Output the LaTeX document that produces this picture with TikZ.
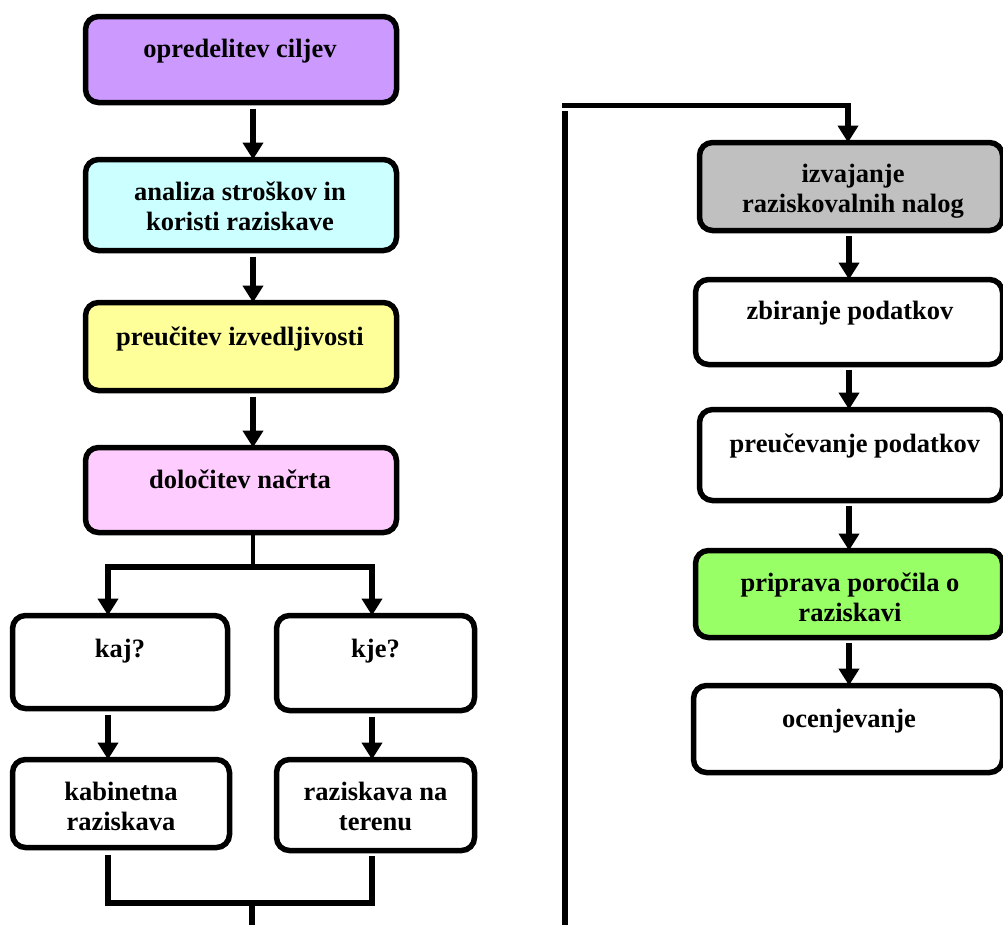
\documentclass[tikz,border=0pt]{standalone}
\usepackage{fontspec}
\setmainfont{Liberation Serif}
\usetikzlibrary{arrows.meta}

\definecolor{cPurple}{HTML}{CC99FF}
\definecolor{cCyan}{HTML}{CCFFFF}
\definecolor{cYellow}{HTML}{FFFF99}
\definecolor{cPink}{HTML}{FFCCFF}
\definecolor{cGray}{HTML}{C0C0C0}
\definecolor{cGreen}{HTML}{99FF66}

\tikzset{
  box/.style={draw=black, line width=5.5pt, rounded corners=13pt, inner sep=0pt, outer sep=0pt},
  lbl/.style={anchor=base, align=center, inner sep=0pt,
    font=\fontsize{26.5}{30}\selectfont\bfseries},
  conn/.style={draw=black, line width=5.5pt},
  arr/.style={conn, -{Triangle[length=17pt,width=20pt]}},
}

\begin{document}
\begin{tikzpicture}[x=1pt, y=-1pt]
\useasboundingbox (0,0) rectangle (1003,924);

% left column
\node[box, fill=cPurple, minimum width=311pt, minimum height=86pt] (b1) at (241,59.5) {};
\node[box, fill=cCyan,   minimum width=311pt, minimum height=91pt] (b2) at (241,205) {};
\node[box, fill=cYellow, minimum width=311pt, minimum height=88pt] (b3) at (241,346.5) {};
\node[box, fill=cPink,   minimum width=311pt, minimum height=85pt] (b4) at (241,490) {};
\node[box, fill=white, minimum width=215pt, minimum height=93pt] (b5) at (120,662) {};
\node[box, fill=white, minimum width=198pt, minimum height=95pt] (b6) at (375.5,663) {};
\node[box, fill=white, minimum width=217pt, minimum height=88pt] (b7) at (121,803.5) {};
\node[box, fill=white, minimum width=198pt, minimum height=91pt] (b8) at (375.5,805) {};

% labels are placed by the baseline of their last line
\node[lbl] (t1) at (240,57) {opredelitev ciljev};
\node[lbl] (t2) at (240,230) {analiza stroškov in\\koristi raziskave};
\node[lbl] (t3) at (240,345) {preučitev izvedljivosti};
\node[lbl] (t4) at (240,488) {določitev načrta};
\node[lbl] (t5) at (120,657) {kaj?};
\node[lbl] (t6) at (375.5,657) {kje?};
\node[lbl] (t7) at (121,830) {kabinetna\\raziskava};
\node[lbl] (t8) at (375.5,830) {raziskava na\\terenu};

% right column
\node[box, fill=cGray,  minimum width=303pt, minimum height=88pt] (r1) at (851,186.5) {};
\node[box, fill=white,  minimum width=307pt, minimum height=85pt] (r2) at (849,322) {};
\node[box, fill=white,  minimum width=303pt, minimum height=91pt] (r3) at (851,455) {};
\node[box, fill=cGreen, minimum width=307pt, minimum height=87pt] (r4) at (849,594) {};
\node[box, fill=white,  minimum width=309pt, minimum height=87pt] (r5) at (848,729) {};

\node[lbl] (s1) at (853,212) {izvajanje\\raziskovalnih nalog};
\node[lbl] (s2) at (850,319) {zbiranje podatkov};
\node[lbl] (s3) at (855,452) {preučevanje podatkov};
\node[lbl] (s4) at (850,621) {priprava poročila o\\raziskavi};
\node[lbl] (s5) at (849,727) {ocenjevanje};

% connector positions
\coordinate (xl) at (253,0);
\coordinate (xa) at (108,0);
\coordinate (xb) at (372,0);
\coordinate (j1) at (253,567);
\coordinate (ja) at (108,567);
\coordinate (jb) at (372,567);
\coordinate (m1) at (108,903);
\coordinate (m2) at (372,903);
\coordinate (m3) at (252,903);
\coordinate (m4) at (252,930);
\coordinate (v1) at (565,930);
\coordinate (v2) at (565,111);
\coordinate (h1) at (562,105.5);
\coordinate (h2) at (848,105.5);
\coordinate (xr) at (849,0);

% left connectors
\draw[arr, shorten <=6pt] (b1.south -| xl) -- (b2.north -| xl);
\draw[arr, shorten <=6pt] (b2.south -| xl) -- (b3.north -| xl);
\draw[arr, shorten <=6pt] (b3.south -| xl) -- (b4.north -| xl);
\draw[conn, line width=4pt] (b4.south -| xl) -- (j1);
\draw[arr] (j1) -- (ja) -- (b5.north -| xa);
\draw[arr] (j1) -- (jb) -- (b6.north -| xb);
\draw[arr, shorten <=6pt] (b5.south -| xa) -- (b7.north -| xa);
\draw[arr, shorten <=6pt] (b6.south -| xb) -- (b8.north -| xb);
\draw[conn, shorten <=7pt, shorten >=5pt] (b7.south -| xa) -- (m1) -- (m2) -- (b8.south -| xb);
\draw[conn] (m3) -- (m4);

% right connectors
\draw[conn] (v1) -- (v2);
\draw[arr] (h1) -- (h2) -- (r1.north -| h2);
\draw[arr, shorten <=5pt] (r1.south -| xr) -- (r2.north -| xr);
\draw[arr, shorten <=5pt] (r2.south -| xr) -- (r3.north -| xr);
\draw[arr, shorten <=5pt] (r3.south -| xr) -- (r4.north -| xr);
\draw[arr, shorten <=5pt] (r4.south -| xr) -- (r5.north -| xr);
\end{tikzpicture}
\end{document}
